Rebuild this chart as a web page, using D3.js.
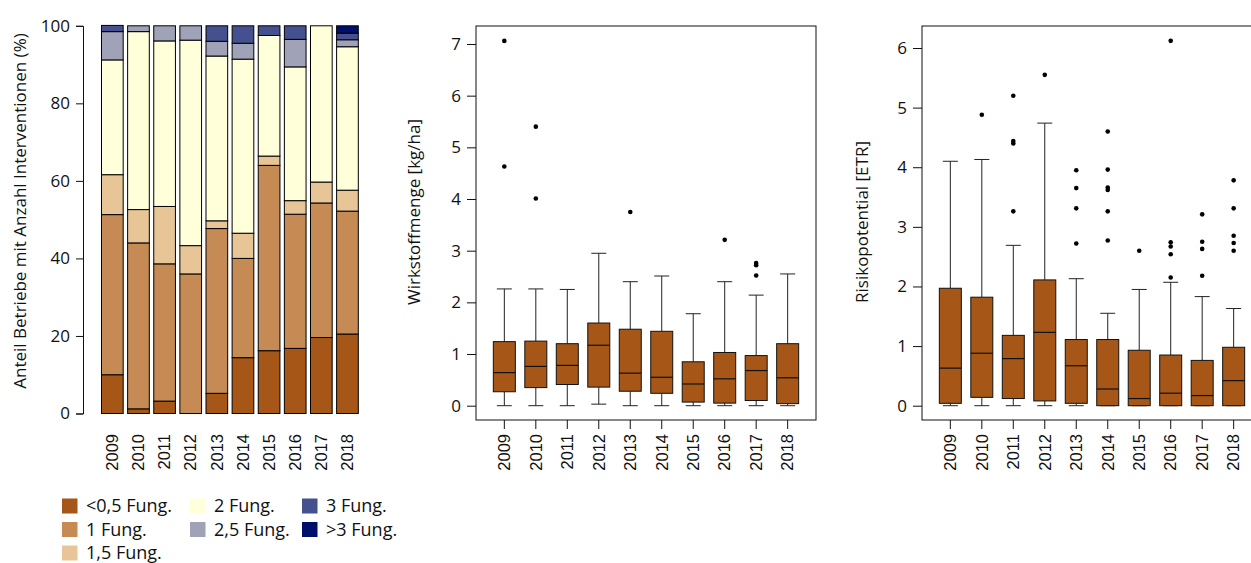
<!DOCTYPE html>
<html>
<head>
<meta charset="utf-8">
<script src="https://cdn.jsdelivr.net/npm/d3@7"></script>
<style>
  body { margin: 0; background: #fff; }
  svg { font-family: "Open Sans", sans-serif; }
</style>
</head>
<body>
<svg id="chart" width="1251" height="563"></svg>
<script>
/* DATA */
const years = [2009, 2010, 2011, 2012, 2013, 2014, 2015, 2016, 2017, 2018];

// share of farms (%) by number of fungicide interventions
const lt05 = [10.0, 1.2, 3.2, 0, 5.2, 14.4, 16.2, 16.8, 19.6, 20.5];
const f1   = [41.3, 42.8, 35.4, 36.0, 42.5, 25.6, 47.8, 34.6, 34.7, 31.7];
const f15  = [10.3, 8.6, 14.8, 7.3, 2.0, 6.5, 2.4, 3.5, 5.4, 5.4];
const f2   = [29.6, 45.9, 42.7, 53.0, 42.5, 44.9, 31.1, 34.5, 40.3, 37.0];
const f25  = [7.3, 1.5, 3.9, 3.7, 3.8, 4.1, 0, 7.1, 0, 1.8];
const f3   = [1.6, 0, 0, 0, 4.0, 4.5, 2.5, 3.5, 0, 1.7];
const fgt3 = [0, 0, 0, 0, 0, 0, 0, 0, 0, 1.9];

const catKeys = ["lt05", "f1", "f15", "f2", "f25", "f3", "fgt3"];
const catLabels = ["<0,5 Fung.", "1 Fung.", "1,5 Fung.", "2 Fung.", "2,5 Fung.", "3 Fung.", ">3 Fung."];
const catColors = ["#a65718", "#c68b55", "#e7c597", "#ffffd9", "#a0a2b8", "#45508f", "#000f6a"];

const pctTicks = [0, 20, 40, 60, 80, 100];

// Wirkstoffmenge [kg/ha]
const mengeLow  = [0, 0, 0, 0.03, 0, 0, 0, 0, 0, 0];
const mengeQ1   = [0.27, 0.35, 0.41, 0.36, 0.28, 0.24, 0.07, 0.05, 0.10, 0.04];
const mengeMed  = [0.64, 0.76, 0.78, 1.17, 0.63, 0.55, 0.42, 0.52, 0.68, 0.54];
const mengeQ3   = [1.24, 1.25, 1.20, 1.60, 1.48, 1.44, 0.85, 1.03, 0.97, 1.20];
const mengeHigh = [2.26, 2.26, 2.25, 2.95, 2.40, 2.51, 1.78, 2.40, 2.14, 2.55];
const mengeOut  = [[4.63, 7.06], [4.01, 5.40], [], [], [3.75], [], [], [3.21], [2.52, 2.72, 2.76], []];
const mengeTicks = [0, 1, 2, 3, 4, 5, 6, 7];

// Risikopotential [ETR]
const risikoLow  = [0, 0, 0, 0, 0, 0, 0, 0, 0, 0];
const risikoQ1   = [0.04, 0.14, 0.12, 0.08, 0.04, 0, 0, 0, 0, 0];
const risikoMed  = [0.63, 0.88, 0.79, 1.23, 0.67, 0.28, 0.12, 0.21, 0.17, 0.42];
const risikoQ3   = [1.97, 1.82, 1.18, 2.11, 1.11, 1.11, 0.93, 0.85, 0.76, 0.98];
const risikoHigh = [4.10, 4.13, 2.69, 4.74, 2.13, 1.55, 1.95, 2.07, 1.83, 1.63];
const risikoOut  = [[], [4.88], [3.26, 4.40, 4.44, 5.20], [5.55], [2.72, 3.31, 3.65, 3.95],
  [2.77, 3.26, 3.62, 3.66, 3.96, 4.60], [2.60], [2.15, 2.54, 2.67, 2.74, 6.12],
  [2.18, 2.63, 2.75, 3.21], [2.60, 2.73, 2.85, 3.31, 3.78]];
const risikoTicks = [0, 1, 2, 3, 4, 5, 6];

/* SETUP */
const svg = d3.select("#chart");
const fontSize = 17;
const yearFont = "Liberation Sans";
const yearSize = 16.5;
const boxFill = "#a65718";

/* STACKED BARS */
const rows = years.map((y, i) => ({
  year: y, lt05: lt05[i], f1: f1[i], f15: f15[i], f2: f2[i], f25: f25[i], f3: f3[i], fgt3: fgt3[i]
}));
const stacked = d3.stack().keys(catKeys)(rows);

const xBar = d3.scaleBand()
  .domain(years)
  .range([101.5, 358.3])
  .paddingInner(0.17)
  .paddingOuter(0);

const yPct = d3.scaleLinear().domain([0, 100]).range([413.5, 25.8]);

const barG = svg.append("g");
stacked.forEach((layer, k) => {
  barG.selectAll(null)
    .data(layer.filter(d => d[1] - d[0] > 0))
    .join("rect")
    .attr("x", d => xBar(d.data.year))
    .attr("width", xBar.bandwidth())
    .attr("y", d => yPct(d[1]))
    .attr("height", d => yPct(d[0]) - yPct(d[1]))
    .attr("fill", catColors[k])
    .attr("stroke", "#000")
    .attr("stroke-width", 1);
});

svg.append("g")
  .attr("transform", "translate(83,0)")
  .call(d3.axisLeft(yPct).tickValues(pctTicks).tickSize(7).tickPadding(6))
  .call(g => g.selectAll("text").attr("font-size", fontSize).attr("font-family", "Open Sans").attr("fill", "#111"))
  .call(g => g.selectAll("line, path").attr("stroke", "#111"));

svg.append("g").selectAll("text")
  .data(years)
  .join("text")
  .attr("transform", d => `translate(${xBar(d) + xBar.bandwidth() / 2},434) rotate(-90)`)
  .attr("text-anchor", "end")
  .attr("dy", "0.35em")
  .attr("font-family", yearFont)
  .attr("font-size", yearSize)
  .attr("fill", "#111")
  .text(d => d);

svg.append("text")
  .attr("transform", "translate(20,211) rotate(-90)")
  .attr("text-anchor", "middle")
  .attr("dy", "0.35em")
  .attr("font-size", 17)
  .attr("fill", "#111")
  .text("Anteil Betriebe mit Anzahl Interventionen (%)");

/* LEGEND */
const legendCols = [[0, 1, 2], [3, 4], [5, 6]];
const legendX = [62, 190, 302];
const legendY = [506, 529.5, 553];
const legG = svg.append("g");
legendCols.forEach((col, c) => {
  col.forEach((k, r) => {
    legG.append("rect")
      .attr("x", legendX[c])
      .attr("y", legendY[r] - 7.5)
      .attr("width", 15.5)
      .attr("height", 15)
      .attr("fill", catColors[k]);
    legG.append("text")
      .attr("x", legendX[c] + 24)
      .attr("y", legendY[r])
      .attr("dy", "0.35em")
      .attr("font-size", 18)
      .attr("fill", "#111")
      .text(catLabels[k]);
  });
});

/* BOXPLOTS */
function boxplot(opts) {
  const { left, yRange, yDomain, ticks, low, q1, med, q3, high, out, title, titleX, titleY } = opts;
  const frameW = 340, top = 26, bottom = 420;
  const x = d3.scaleLinear().domain([0.1, 10.9]).range([left, left + frameW]);
  const y = d3.scaleLinear().domain(yDomain).range(yRange);
  const g = svg.append("g");
  const bw = 22, cap = 15;

  years.forEach((yr, i) => {
    const cx = x(i + 1);
    g.append("line").attr("x1", cx).attr("x2", cx).attr("y1", y(q3[i])).attr("y2", y(high[i]))
      .attr("stroke", "#222");
    g.append("line").attr("x1", cx).attr("x2", cx).attr("y1", y(q1[i])).attr("y2", y(low[i]))
      .attr("stroke", "#222");
    g.append("line").attr("x1", cx - cap / 2).attr("x2", cx + cap / 2).attr("y1", y(high[i])).attr("y2", y(high[i]))
      .attr("stroke", "#222");
    g.append("line").attr("x1", cx - cap / 2).attr("x2", cx + cap / 2).attr("y1", y(low[i])).attr("y2", y(low[i]))
      .attr("stroke", "#222");
    g.append("rect")
      .attr("x", cx - bw / 2).attr("width", bw)
      .attr("y", y(q3[i])).attr("height", y(q1[i]) - y(q3[i]))
      .attr("fill", boxFill).attr("stroke", "#111");
    g.append("line").attr("x1", cx - bw / 2).attr("x2", cx + bw / 2).attr("y1", y(med[i])).attr("y2", y(med[i]))
      .attr("stroke", "#111").attr("stroke-width", 1.2);
    g.selectAll(null).data(out[i]).join("circle")
      .attr("cx", cx).attr("cy", d => y(d)).attr("r", 2.3).attr("fill", "#000");
  });

  g.append("rect")
    .attr("x", left).attr("y", top).attr("width", frameW).attr("height", bottom - top)
    .attr("fill", "none").attr("stroke", "#111");

  svg.append("g")
    .attr("transform", `translate(${left},0)`)
    .call(d3.axisLeft(y).tickValues(ticks).tickSize(9).tickPadding(6).tickFormat(d3.format("d")))
    .call(g => g.select(".domain").remove())
    .call(g => g.selectAll("text").attr("font-size", fontSize).attr("font-family", "Open Sans").attr("fill", "#111"))
    .call(g => g.selectAll("line").attr("stroke", "#111"));

  svg.append("g").selectAll("line")
    .data(years)
    .join("line")
    .attr("x1", (d, i) => x(i + 1)).attr("x2", (d, i) => x(i + 1))
    .attr("y1", bottom).attr("y2", bottom + 9)
    .attr("stroke", "#111");

  svg.append("g").selectAll("text")
    .data(years)
    .join("text")
    .attr("transform", (d, i) => `translate(${x(i + 1)},434) rotate(-90)`)
    .attr("text-anchor", "end")
    .attr("dy", "0.35em")
    .attr("font-family", yearFont)
    .attr("font-size", yearSize)
    .attr("fill", "#111")
    .text(d => d);

  svg.append("text")
    .attr("transform", `translate(${titleX},${titleY}) rotate(-90)`)
    .attr("text-anchor", "middle")
    .attr("dy", "0.35em")
    .attr("font-size", 17)
    .attr("fill", "#111")
    .text(title);
}

boxplot({
  left: 476, yDomain: [0, 7], yRange: [405.7, 44], ticks: mengeTicks,
  low: mengeLow, q1: mengeQ1, med: mengeMed, q3: mengeQ3, high: mengeHigh, out: mengeOut,
  title: "Wirkstoffmenge [kg/ha]", titleX: 414, titleY: 212
});

boxplot({
  left: 922, yDomain: [0, 6], yRange: [405.7, 48], ticks: risikoTicks,
  low: risikoLow, q1: risikoQ1, med: risikoMed, q3: risikoQ3, high: risikoHigh, out: risikoOut,
  title: "Risikopotential [ETR]", titleX: 862, titleY: 222
});
</script>
</body>
</html>
